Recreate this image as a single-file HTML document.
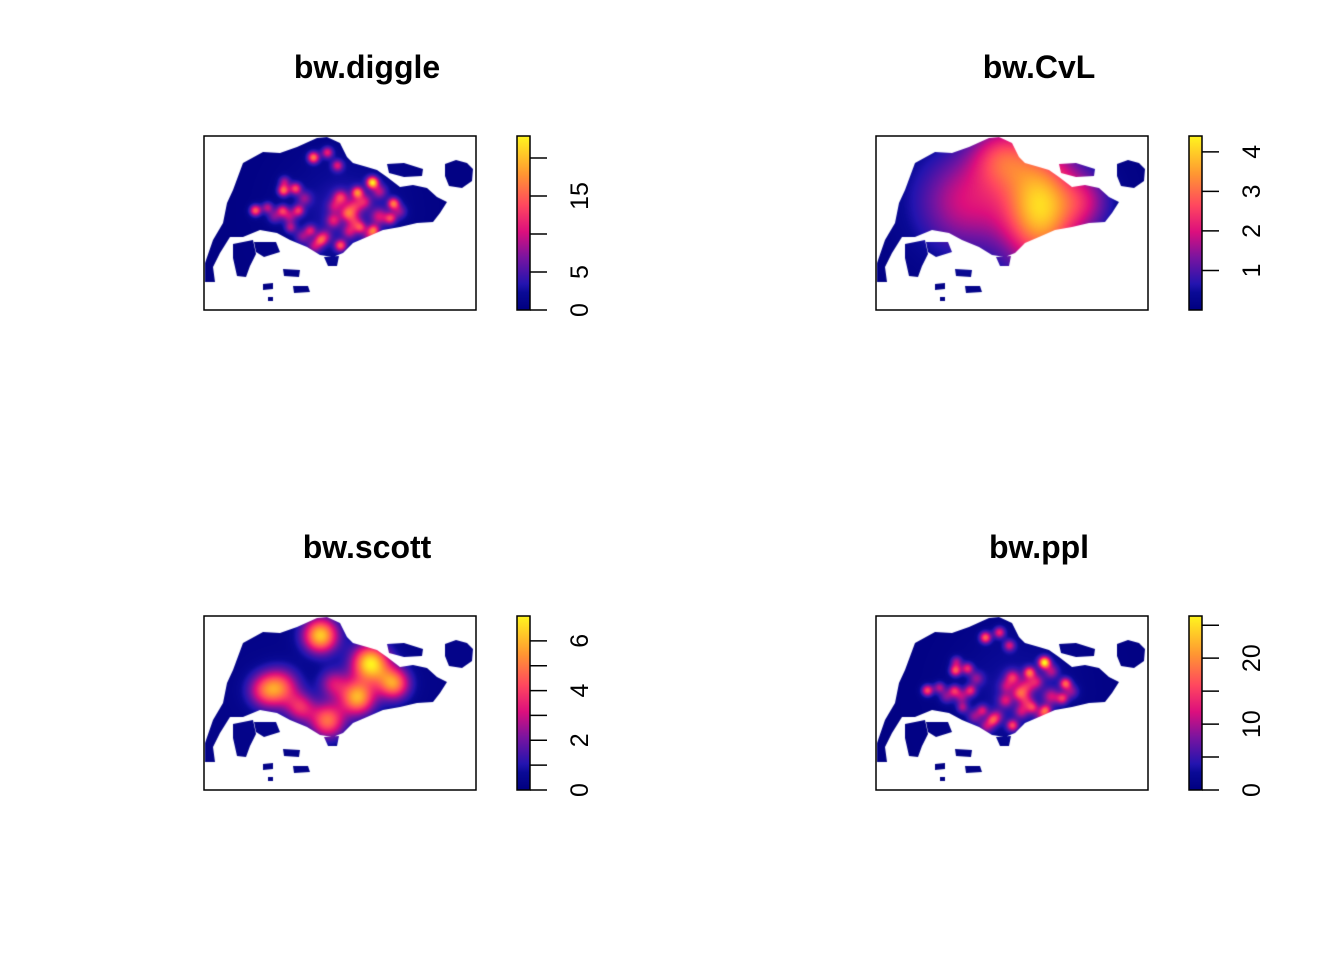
<!DOCTYPE html>
<html><head><meta charset="utf-8"><style>
body{margin:0;background:#fff;width:1344px;height:960px;overflow:hidden;position:relative;font-family:"Liberation Sans",Arial,sans-serif}
canvas{position:absolute}
svg{position:absolute;left:0;top:0}
</style></head><body>
<canvas id="c0" width="272" height="174" style="left:204px;top:136px"></canvas>
<canvas id="c1" width="272" height="174" style="left:876px;top:136px"></canvas>
<canvas id="c2" width="272" height="174" style="left:204px;top:616px"></canvas>
<canvas id="c3" width="272" height="174" style="left:876px;top:616px"></canvas>
<svg id="s" width="1344" height="960"></svg>
<script>
// ---- data ----
const titles = ["bw.diggle","bw.CvL","bw.scott","bw.ppl"];
const zmax = [22.9, 4.4, 7.0, 26.4];
const baseVal = [0.4, 0.1, 0.3, 0.5];
const tickVals0 = [0,5,10,15,20];  const labelVals0 = [0,5,15];
const tickVals1 = [1,2,3,4];       const labelVals1 = [1,2,3,4];
const tickVals2 = [0,1,2,3,4,5,6]; const labelVals2 = [0,2,4,6];
const tickVals3 = [0,5,10,15,20,25]; const labelVals3 = [0,10,20];
// hotspots: x, y (map units), amplitude, sigma x, sigma y
const hotX0 = [109,123,133,168,153,79,91,51,63,78,94,136,143,189,186,169,156,136,116,106,86,129,100,150,175,140,80,85,120,145,160,175,195,110,70,98,130,150,165];
const hotY0 = [21,16,29,46,56,54,52,74,71,74,74,61,77,67,82,94,91,109,104,94,91,84,62,70,80,75,45,80,100,95,65,55,75,110,80,100,70,85,100];
const hotA0 = [15,10,9,20,14,14,12,14,8,10,10,10,10,14,10,12,9,12,8,8,7,8,6,8,8,3,7,7,7,7,7,7,6,7,6,6,6,7,6];
const hotS0 = [4,4,4,4,4,4,4,4,4,4,4,5,5,4,4,4,4,4,4,4,4,5,5,6,6,40,4,5,5,5,5,5,5,5,5,5,5,5,5];
const hotSY0 = hotS0.slice();
const hotX1 = [165,90,125,210];
const hotY1 = [71,65,20,65];
const hotA1 = [3.8,1.8,1.8,1.2];
const hotS1 = [26,35,22,18];
const hotSY1 = [42,35,22,20];
const hotX2 = [116,76,60,166,153,189,123,129,96];
const hotY2 = [19,71,74,47,81,67,104,67,91];
const hotA2 = [6,3.8,3,6.5,5.5,5,4.5,2.5,3];
const hotS2 = [12,13,12,13,12,11,12,10,10];
const hotSY2 = hotS2.slice();
const hotX3 = hotX0.slice(), hotY3 = hotY0.slice();
const hotA3 = [16,12,10,24,15,15,12,15,9,11,11,11,11,15,11,13,10,13,9,9,8,9,7,9,9,3,8,8,8,8,8,8,7,8,7,7,7,8,7];
const hotS3 = hotS0.slice();
const hotSY3 = hotS0.slice();
// ---- geometry ----
const mainland=[[1,127],[9,104],[19,87],[23,67],[29,54],[39,27],[59,16],[76,17],[93,11],[113,2],[123,1],[136,7],[143,21],[149,27],[163,31],[173,34],[183,41],[196,51],[209,49],[223,52],[233,61],[243,66],[236,77],[229,86],[213,87],[196,91],[179,94],[163,101],[149,107],[139,117],[129,121],[116,119],[103,111],[86,104],[73,97],[56,94],[39,101],[26,101],[16,117],[9,131],[11,146],[1,146]];
const islands=[[[183,28],[200,27],[219,33],[218,40],[200,41],[185,37]],
[[241,28],[252,24],[263,27],[269,33],[268,45],[258,52],[245,50],[241,40]],
[[29,108],[49,104],[52,118],[46,130],[42,141],[33,140],[29,122]],
[[50,106],[72,106],[76,116],[60,121],[52,116]],
[[79,133],[96,134],[95,141],[80,140]],[[59,148],[69,147],[69,153],[59,154]],
[[89,150],[104,150],[106,156],[90,157]],[[64,161],[69,161],[69,165],[64,165]],
[[120,121],[135,120],[133,130],[124,130]]];
const cmStops=[[0,[0,0,128]],[0.1,[10,10,150]],[0.15,[35,20,175]],[0.3,[120,20,160]],[0.45,[220,15,125]],[0.6,[255,70,95]],[0.78,[255,150,50]],[1,[255,245,30]]];
function cmap(t){t=Math.max(0,Math.min(1,t));for(let i=1;i<cmStops.length;i++){if(t<=cmStops[i][0]){const a=cmStops[i-1],b=cmStops[i];const f=(t-a[0])/(b[0]-a[0]);return a[1].map((v,k)=>Math.round(v+(b[1][k]-v)*f));}}return cmStops[cmStops.length-1][1];}
const HX=[hotX0,hotX1,hotX2,hotX3],HY=[hotY0,hotY1,hotY2,hotY3],HA=[hotA0,hotA1,hotA2,hotA3],HS=[hotS0,hotS1,hotS2,hotS3],HSY=[hotSY0,hotSY1,hotSY2,hotSY3];
for(let p=0;p<4;p++){
  const cv=document.getElementById('c'+p),ctx=cv.getContext('2d');
  const off=document.createElement('canvas');off.width=272;off.height=174;
  const octx=off.getContext('2d');const img=octx.createImageData(272,174);
  for(let y=0;y<174;y++)for(let x=0;x<272;x++){
    let v=baseVal[p];
    for(let i=0;i<HX[p].length;i++){const dx=x-HX[p][i],dy=y-HY[p][i],s=HS[p][i],sy=HSY[p][i];v+=HA[p][i]*Math.exp(-(dx*dx)/(2*s*s)-(dy*dy)/(2*sy*sy));}
    const c=cmap(v/zmax[p]);const o=(y*272+x)*4;img.data[o]=c[0];img.data[o+1]=c[1];img.data[o+2]=c[2];img.data[o+3]=255;}
  octx.putImageData(img,0,0);
  ctx.beginPath();
  [mainland,...islands].forEach(poly=>{poly.forEach((pt,i)=>i?ctx.lineTo(pt[0],pt[1]):ctx.moveTo(pt[0],pt[1]));ctx.closePath();});
  ctx.save();ctx.clip();ctx.drawImage(off,0,0);ctx.restore();
}
// ---- overlay ----
const NS="http://www.w3.org/2000/svg",svg=document.getElementById('s');
function mk(tag,attrs,parent){const e=document.createElementNS(NS,tag);for(const k in attrs)e.setAttribute(k,attrs[k]);(parent||svg).appendChild(e);return e;}
const offs=[[0,0],[672,0],[0,480],[672,480]];
const TV=[tickVals0,tickVals1,tickVals2,tickVals3],LV=[labelVals0,labelVals1,labelVals2,labelVals3];
let defs=mk('defs',{});
let lg=mk('linearGradient',{id:'cb',x1:0,y1:1,x2:0,y2:0},defs);
cmStops.forEach(s=>{mk('stop',{offset:s[0],'stop-color':'rgb('+s[1].join(',')+')'},lg);});
for(let p=0;p<4;p++){
  const [ox,oy]=offs[p];
  const g=mk('g',{});
  
  
  const t=mk('text',{x:367+ox,y:78+oy,'text-anchor':'middle','font-size':32,'font-weight':'bold','font-family':'Liberation Sans, sans-serif'},g);
  t.textContent=titles[p];
  
  
  const fr=mk('rect',{x:204+ox,y:136+oy,width:272,height:174,fill:'none',stroke:'#000','stroke-width':1.5},g);
  
  
  const cb=mk('rect',{x:517+ox,y:136+oy,width:13,height:174,fill:'url(#cb)',stroke:'#000','stroke-width':1.5},g);
  
  
  const sy=v=>310+oy-v/zmax[p]*174;
  TV[p].forEach(v=>{const l=mk('line',{x1:530+ox,x2:547+ox,y1:sy(v),y2:sy(v),stroke:'#000','stroke-width':1.5},g);
    
    });
  LV[p].forEach(v=>{const y=sy(v);const tx=mk('text',{x:0,y:0,'text-anchor':'middle','font-size':25,'font-family':'Liberation Sans, sans-serif',transform:`translate(${588+ox},${y}) rotate(-90)`},g);
    tx.textContent=v;
    
    });
}
</script>
</body></html>
